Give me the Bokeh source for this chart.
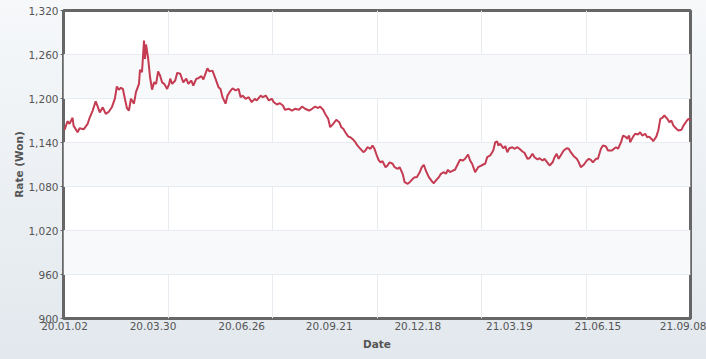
from datetime import datetime
import pandas as pd
from bokeh.plotting import figure
from bokeh.models import (Range1d, FixedTicker, NumeralTickFormatter,
                          DatetimeTickFormatter, ColumnDataSource)
from bokeh.embed import file_html
from bokeh.resources import INLINE

# ---- data ----
dates = [
    "2020-01-02", "2020-01-05", "2020-01-07", "2020-01-10", "2020-01-11", "2020-01-15",
    "2020-01-17", "2020-01-21", "2020-01-25", "2020-01-27", "2020-01-30", "2020-02-02",
    "2020-02-04", "2020-02-06", "2020-02-09", "2020-02-12", "2020-02-15", "2020-02-18",
    "2020-02-21", "2020-02-23", "2020-02-25", "2020-02-27", "2020-02-29", "2020-03-02",
    "2020-03-04", "2020-03-06", "2020-03-08", "2020-03-11", "2020-03-13", "2020-03-16",
    "2020-03-17", "2020-03-19", "2020-03-21", "2020-03-22", "2020-03-23", "2020-03-25",
    "2020-03-27", "2020-03-29", "2020-03-31", "2020-04-02", "2020-04-04", "2020-04-06",
    "2020-04-08", "2020-04-10", "2020-04-13", "2020-04-15", "2020-04-16", "2020-04-18",
    "2020-04-21", "2020-04-23", "2020-04-26", "2020-04-29", "2020-05-02", "2020-05-04",
    "2020-05-07", "2020-05-09", "2020-05-12", "2020-05-14", "2020-05-17", "2020-05-19",
    "2020-05-23", "2020-05-25", "2020-05-28", "2020-05-31", "2020-06-03", "2020-06-05",
    "2020-06-07", "2020-06-10", "2020-06-12", "2020-06-14", "2020-06-17", "2020-06-20",
    "2020-06-23", "2020-06-25", "2020-06-27", "2020-06-30", "2020-07-03", "2020-07-06",
    "2020-07-09", "2020-07-11", "2020-07-15", "2020-07-17", "2020-07-20", "2020-07-23",
    "2020-07-26", "2020-07-28", "2020-07-31", "2020-08-03", "2020-08-06", "2020-08-08",
    "2020-08-12", "2020-08-15", "2020-08-18", "2020-08-22", "2020-08-25", "2020-08-28",
    "2020-09-01", "2020-09-04", "2020-09-07", "2020-09-10", "2020-09-12", "2020-09-15",
    "2020-09-17", "2020-09-20", "2020-09-22", "2020-09-25", "2020-09-28", "2020-10-01",
    "2020-10-03", "2020-10-05", "2020-10-07", "2020-10-10", "2020-10-12", "2020-10-15",
    "2020-10-17", "2020-10-19", "2020-10-22", "2020-10-25", "2020-10-27", "2020-10-29",
    "2020-11-01", "2020-11-03", "2020-11-05", "2020-11-07", "2020-11-09", "2020-11-11",
    "2020-11-13", "2020-11-16", "2020-11-18", "2020-11-20", "2020-11-23", "2020-11-25",
    "2020-11-28", "2020-11-30", "2020-12-03", "2020-12-05", "2020-12-08", "2020-12-10",
    "2020-12-13", "2020-12-15", "2020-12-17", "2020-12-20", "2020-12-22", "2020-12-24",
    "2020-12-26", "2020-12-29", "2021-01-01", "2021-01-03", "2021-01-05", "2021-01-08",
    "2021-01-10", "2021-01-13", "2021-01-15", "2021-01-17", "2021-01-19", "2021-01-22",
    "2021-01-24", "2021-01-27", "2021-01-29", "2021-02-01", "2021-02-03", "2021-02-06",
    "2021-02-08", "2021-02-10", "2021-02-13", "2021-02-16", "2021-02-19", "2021-02-21",
    "2021-02-23", "2021-02-25", "2021-02-28", "2021-03-03", "2021-03-05", "2021-03-07",
    "2021-03-08", "2021-03-10", "2021-03-13", "2021-03-15", "2021-03-17", "2021-03-19",
    "2021-03-22", "2021-03-24", "2021-03-27", "2021-03-29", "2021-04-01", "2021-04-03",
    "2021-04-06", "2021-04-08", "2021-04-11", "2021-04-13", "2021-04-16", "2021-04-18",
    "2021-04-21", "2021-04-23", "2021-04-26", "2021-04-28", "2021-05-01", "2021-05-03",
    "2021-05-05", "2021-05-07", "2021-05-09", "2021-05-12", "2021-05-15", "2021-05-17",
    "2021-05-19", "2021-05-22", "2021-05-25", "2021-05-27", "2021-05-29", "2021-06-01",
    "2021-06-04", "2021-06-06", "2021-06-08", "2021-06-10", "2021-06-13", "2021-06-15",
    "2021-06-18", "2021-06-20", "2021-06-23", "2021-06-25", "2021-06-29", "2021-07-01",
    "2021-07-03", "2021-07-05", "2021-07-08", "2021-07-10", "2021-07-13", "2021-07-14",
    "2021-07-16", "2021-07-17", "2021-07-20", "2021-07-22", "2021-07-25", "2021-07-27",
    "2021-07-29", "2021-08-01", "2021-08-03", "2021-08-05", "2021-08-08", "2021-08-09",
    "2021-08-12", "2021-08-14", "2021-08-16", "2021-08-18", "2021-08-20", "2021-08-23",
    "2021-08-25", "2021-08-27", "2021-08-29", "2021-09-01", "2021-09-03", "2021-09-06",
    "2021-09-08", "2021-09-11", "2021-09-13", "2021-09-15",
]
rate = [
    1157, 1169, 1165.5, 1173.7, 1163, 1154,
    1159.5, 1158, 1165.5, 1173.7, 1183.6, 1196,
    1189, 1181, 1188, 1179, 1182, 1188,
    1199.6, 1216.4, 1212, 1214.6, 1213, 1199.6,
    1187, 1183.6, 1199.6, 1193, 1208.6, 1220,
    1239, 1236, 1279, 1254, 1273.6, 1256,
    1229, 1212, 1222, 1220, 1237, 1231,
    1222, 1220, 1213, 1220, 1227, 1220,
    1224.5, 1235, 1233.7, 1222, 1227, 1220,
    1224.5, 1217.7, 1227, 1227.7, 1230.4, 1226,
    1241, 1237, 1238, 1227, 1215.4, 1213,
    1201.8, 1193, 1204, 1208.6, 1214, 1211,
    1213, 1201.8, 1204, 1199.6, 1201.8, 1195,
    1199.6, 1197.3, 1204, 1201.8, 1204, 1197.3,
    1199.6, 1195, 1191.8, 1193.6, 1190.5, 1184.6,
    1186, 1183.6, 1186, 1184.6, 1189, 1186,
    1183.6, 1186, 1189, 1187, 1189, 1184.6,
    1179, 1172.3, 1160.9, 1165.5, 1171, 1167.7,
    1160.9, 1158.7, 1154, 1148, 1147.2, 1143.7,
    1140.4, 1136, 1131.4, 1126.8, 1129, 1133.6,
    1131.4, 1136, 1131.4, 1123.6, 1116.4, 1113,
    1114.5, 1106.3, 1108.6, 1113, 1111, 1106.3,
    1104.1, 1106.3, 1097.3, 1085.9, 1083.7, 1085.9,
    1090.5, 1092.7, 1092.7, 1099.5, 1106.3, 1109.6,
    1101.8, 1092.7, 1087.2, 1084.5, 1088.2, 1092.7,
    1097.3, 1099.5, 1097.3, 1102.8, 1099.5, 1101.8,
    1102.8, 1111, 1116.4, 1115.5, 1117.8, 1123.6,
    1115.5, 1111, 1099.5, 1106.3, 1108.6, 1110,
    1111, 1120, 1122.3, 1129, 1140.4, 1141.4,
    1136, 1138.2, 1132.2, 1135, 1126.8, 1132.2,
    1133.6, 1131.4, 1133.6, 1131.4, 1127.7, 1126,
    1117.8, 1118.6, 1124.6, 1120, 1116.8, 1118.6,
    1115.5, 1117.8, 1112.3, 1108.6, 1113, 1120,
    1124.6, 1117.8, 1122.3, 1129, 1132.2, 1131.4,
    1126.8, 1121.3, 1117.8, 1113, 1106.3, 1109.6,
    1115.5, 1117.8, 1116.4, 1113, 1117.8, 1117.8,
    1131.4, 1136, 1134.5, 1129, 1129, 1131.4,
    1133.6, 1131.4, 1140.4, 1149.5, 1147.2, 1145,
    1149.5, 1140.4, 1148, 1151.9, 1151, 1154,
    1149.5, 1151.9, 1147.2, 1148, 1143.7, 1141.8,
    1148, 1156.4, 1172.3, 1173.7, 1176.8, 1172.3,
    1167.7, 1170, 1163, 1158.7, 1156.4, 1157.3,
    1163, 1169, 1172.3, 1170,
]
x_tick_dates = ["2020-01-02", "2020-03-30", "2020-06-26", "2020-09-21",
                "2020-12-18", "2021-03-19", "2021-06-15", "2021-09-08"]
y_ticks = [900, 960, 1020, 1080, 1140, 1200, 1260, 1320]
x_start, x_end = "2020-01-01", "2021-09-15"
y_start, y_end = 900, 1320
n_vertical_divisions = 6

# ---- build ----
src = ColumnDataSource(dict(date=pd.to_datetime(dates), rate=rate))
xs = pd.Timestamp(x_start).to_pydatetime()
xe = pd.Timestamp(x_end).to_pydatetime()

p = figure(width=706, height=359, x_axis_type="datetime",
           x_range=Range1d(xs, xe), y_range=Range1d(y_start, y_end),
           output_backend="svg", toolbar_location=None,
           min_border_left=63, min_border_right=16,
           min_border_top=10, min_border_bottom=41)

p.line("date", "rate", source=src, line_color="#c43b52", line_width=2)

FONT = "DejaVu Sans"
TXT = "#555555"

# x axis
def ms(s):
    return pd.Timestamp(s).value / 1e6

p.xaxis.ticker = FixedTicker(ticks=[ms(d) for d in x_tick_dates])
fmt = "%y.%m.%d"
p.xaxis.formatter = DatetimeTickFormatter(days=fmt, months=fmt, years=fmt,
                                          hours=fmt, hourmin=fmt, minutes=fmt,
                                          minsec=fmt, seconds=fmt,
                                          milliseconds=fmt, microseconds=fmt)
p.xaxis.major_tick_out = 0
p.xaxis.major_tick_in = 0
p.xaxis.minor_tick_line_color = None
p.xaxis.axis_line_color = None
p.xaxis.major_label_standoff = 3
p.xaxis.axis_label = "Date"
p.xaxis.axis_label_standoff = 5

# y axis
p.yaxis.ticker = FixedTicker(ticks=y_ticks)
p.yaxis.formatter = NumeralTickFormatter(format="0,0")
p.yaxis.major_tick_out = 3
p.yaxis.major_tick_in = 0
p.yaxis.major_tick_line_color = "#666666"
p.yaxis.minor_tick_line_color = None
p.yaxis.axis_line_color = None
p.yaxis.major_label_standoff = 2
p.yaxis.axis_label = "Rate (Won)"
p.yaxis.axis_label_standoff = 0

for ax in (p.xaxis, p.yaxis):
    ax.major_label_text_font = FONT
    ax.major_label_text_font_size = "10.5px"
    ax.major_label_text_color = TXT
    ax.axis_label_text_font = FONT
    ax.axis_label_text_font_size = "10.5px"
    ax.axis_label_text_font_style = "bold"
    ax.axis_label_text_color = TXT

# grids
span = ms(x_end) - ms(x_start)
grid_ticks = [ms(x_start) + k * span / n_vertical_divisions
              for k in range(1, n_vertical_divisions)]
p.xgrid.ticker = FixedTicker(ticks=grid_ticks)
p.xgrid.grid_line_color = "#e8ebef"
p.ygrid.ticker = FixedTicker(ticks=y_ticks)
p.ygrid.grid_line_color = "#e8ebef"
p.ygrid.band_fill_color = "#f8f9fb"
p.ygrid.band_fill_alpha = 1

p.background_fill_color = "white"
p.border_fill_color = None
p.outline_line_color = "#666666"
p.outline_line_width = 3
p.styles = {"background": "linear-gradient(to bottom, #f6f8fa, #e2e8ed)"}

open("out.html", "w").write(file_html(p, INLINE))
